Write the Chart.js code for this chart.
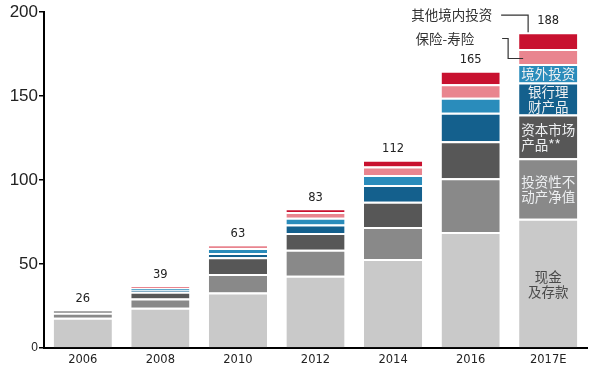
<!DOCTYPE html>
<html>
<head>
<meta charset="utf-8">
<script src="https://cdn.jsdelivr.net/npm/chart.js@4/dist/chart.umd.min.js"></script>
<style>
  html, body { margin: 0; padding: 0; background: #fff; }
  #wrap { width: 592px; height: 370px; }
</style>
</head>
<body>
<div id="wrap"><canvas id="chart" width="592" height="370"></canvas></div>
<script>
const years = ['2006', '2008', '2010', '2012', '2014', '2016', '2017E'];
const totals = [26, 39, 63, 83, 112, 165, 188];

// stacked from the bottom up
const cash = [18, 24, 33, 43, 53, 69, 77];
const property = [3, 5.5, 11, 15.5, 19, 32, 36];
const capital = [1.5, 4, 10, 10, 15, 22, 26];
const bankWm = [0, 0.8, 2.5, 5, 10, 17, 19];
const overseas = [0, 1.2, 3, 4, 6, 9, 11];
const insurance = [0, 1.5, 2, 3.5, 5, 8, 9];
const other = [0, 0, 0, 2, 4, 8, 10];

const seriesNames = ['现金及存款', '投资性不动产净值', '资本市场产品**', '银行理财产品', '境外投资', '保险-寿险', '其他境内投资'];
const seriesValues = [cash, property, capital, bankWm, overseas, insurance, other];
const seriesColors = ['#c9c9c9', '#898989', '#575757', '#14608d', '#2a8cbb', '#e9858f', '#c8112f'];

// text drawn inside the last bar, one entry per series (bottom to top)
const inBarText = [
  ['现金', '及存款'],
  ['投资性不', '动产净值'],
  ['资本市场', '产品**'],
  ['银行理', '财产品'],
  ['境外投资'],
];
const cjk = '"Noto Sans CJK SC", "Noto Sans", sans-serif';

const labelsPlugin = {
  id: 'labels',
  afterDatasetsDraw(chart) {
    const ctx = chart.ctx;
    const xs = chart.scales.x, ys = chart.scales.y;
    ctx.save();

    // totals above the bars
    ctx.font = '11.5px "DejaVu Sans", Verdana, sans-serif';
    ctx.fillStyle = '#222';
    ctx.textAlign = 'center';
    ctx.textBaseline = 'middle';
    years.forEach((y, i) => {
      const sum = seriesValues.reduce((s, arr) => s + arr[i], 0);
      ctx.fillText(String(totals[i]), xs.getPixelForValue(i), ys.getPixelForValue(sum) - 11);
    });

    // names inside the 2017E bar
    const last = years.length - 1;
    ctx.font = '13.5px ' + cjk;
    inBarText.forEach((lines, d) => {
      const el = chart.getDatasetMeta(d).data[last];
      const mid = (el.y + el.base) / 2 + 1;
      ctx.fillStyle = d === 0 ? '#4a4a4a' : '#eef0f2';
      const lh = 15;
      const y0 = mid - (lines.length - 1) * lh / 2;
      const firstW = ctx.measureText(lines[0]).width;
      lines.forEach((t, k) => {
        if (d === 2 && k === 1) {
          ctx.textAlign = 'left';
          ctx.fillText(t, el.x - firstW / 2, y0 + k * lh);
          ctx.textAlign = 'center';
        } else {
          ctx.fillText(t, el.x, y0 + k * lh);
        }
      });
    });

    // callouts for the two top series
    const elOther = chart.getDatasetMeta(6).data[last];
    const elIns = chart.getDatasetMeta(5).data[last];
    const barLeft = elOther.x - elOther.width / 2;
    ctx.strokeStyle = '#333';
    ctx.lineWidth = 1.2;
    ctx.fillStyle = '#333';
    ctx.textAlign = 'right';

    const ty1 = elOther.y - 17;
    ctx.fillText(seriesNames[6], barLeft - 27, ty1);
    ctx.beginPath();
    ctx.moveTo(barLeft - 18, ty1);
    ctx.lineTo(barLeft + 9, ty1);
    ctx.lineTo(barLeft + 9, elOther.y);
    ctx.stroke();

    const insMid = (elIns.y + elIns.base) / 2;
    const ty2 = insMid - 18;
    ctx.fillText('保险-寿险', barLeft - 45, ty2);
    ctx.beginPath();
    ctx.moveTo(barLeft - 17, ty2);
    ctx.lineTo(barLeft - 11, ty2);
    ctx.lineTo(barLeft - 11, insMid + 2);
    ctx.lineTo(barLeft + 4, insMid + 2);
    ctx.stroke();

    ctx.restore();
  }
};

new Chart(document.getElementById('chart').getContext('2d'), {
  type: 'bar',
  data: {
    labels: years,
    datasets: seriesValues.map((vals, k) => ({
      label: seriesNames[k],
      data: vals,
      backgroundColor: seriesColors[k],
      borderColor: '#ffffff',
      borderWidth: {top: 2, left: 0, right: 0, bottom: 0},
      borderSkipped: false,
      barPercentage: 0.75,
      categoryPercentage: 1,
    }))
  },
  options: {
    responsive: false,
    animation: false,
    layout: {padding: {top: 12, right: 5, left: 0, bottom: 0}},
    plugins: {legend: {display: false}, tooltip: {enabled: false}},
    scales: {
      x: {
        stacked: true,
        grid: {display: false, drawTicks: false},
        border: {display: true, color: '#000', width: 2},
        ticks: {
          color: '#222',
          padding: 5,
          font: {family: '"DejaVu Sans", Verdana, sans-serif', size: 11.5},
        },
        afterFit(scale) { scale.height = 22; }
      },
      y: {
        stacked: true,
        min: 0,
        max: 200,
        grid: {drawOnChartArea: false, drawTicks: true, tickLength: 5, color: '#000', lineWidth: 1.5},
        border: {display: true, color: '#000', width: 2},
        ticks: {
          stepSize: 50,
          color: '#222',
          padding: 1,
          font: ctx => ({
            family: '"Liberation Sans", Arial, sans-serif',
            size: ctx.tick && ctx.tick.value === 0 ? 12 : 17,
          }),
        },
        afterFit(scale) { scale.width = 44; }
      }
    }
  },
  plugins: [labelsPlugin]
});
</script>
</body>
</html>
